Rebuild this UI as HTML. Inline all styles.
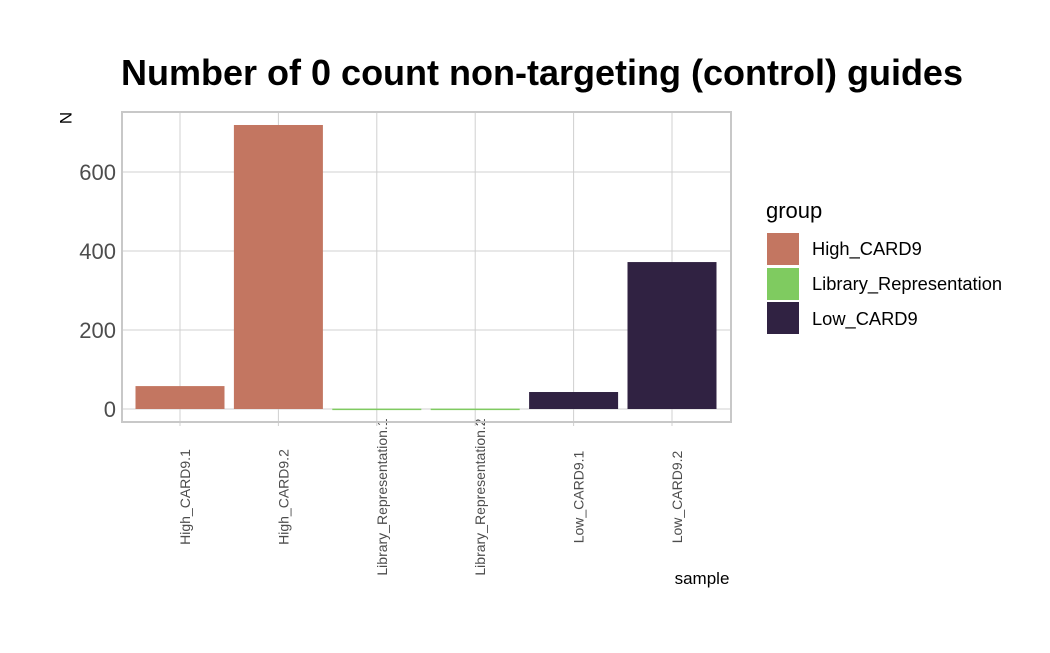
<!DOCTYPE html>
<html><head><meta charset="utf-8"><style>
body{margin:0;background:#fff;font-family:"Liberation Sans",sans-serif;}
</style></head><body>
<svg id="c" width="1050" height="648" xmlns="http://www.w3.org/2000/svg">
<text x="542" y="85" text-anchor="middle" font-size="36" font-weight="bold">Number of 0 count non-targeting (control) guides</text>
<g id="grid"></g><g id="bars"></g><g id="axes"></g>
<text x="60" y="118" font-size="17" transform="rotate(90 60 118)" text-anchor="middle">N</text>
<text x="702" y="584" font-size="17" text-anchor="middle">sample</text>
<g>
<text x="766" y="218" font-size="22">group</text>
<rect x="767" y="233" width="32" height="32" fill="#c37661"/>
<text x="812" y="255" font-size="18.3">High_CARD9</text>
<rect x="767" y="268" width="32" height="32" fill="#7fcb60"/>
<text x="812" y="290" font-size="18.3">Library_Representation</text>
<rect x="767" y="302" width="32" height="32" fill="#302242"/>
<text x="812" y="325" font-size="18.3">Low_CARD9</text>
</g>
</svg>
<script>
const categories=["High_CARD9.1","High_CARD9.2","Library_Representation.1","Library_Representation.2","Low_CARD9.1","Low_CARD9.2"];
const values=[58,719,1,1,43,372];
const groups=["High_CARD9","High_CARD9","Library_Representation","Library_Representation","Low_CARD9","Low_CARD9"];
const yTicks=[0,200,400,600];
const colors={"High_CARD9":"#c37661","Library_Representation":"#7fcb60","Low_CARD9":"#302242"};
const NS="http://www.w3.org/2000/svg";
const L=122,R=731,T=112,B=422;
const y=v=>409-v*(79/200);
const step=98.4;
const x=i=>180+step*i;
const bw=89;
function mk(t,a,p){const e=document.createElementNS(NS,t);for(const k in a)e.setAttribute(k,a[k]);p.appendChild(e);return e;}
const grid=document.getElementById('grid'),bars=document.getElementById('bars'),axes=document.getElementById('axes');
yTicks.forEach(v=>{
 const l=mk('line',{x1:L,x2:R,y1:y(v),y2:y(v),stroke:'#d0d0d0','stroke-width':1},grid);
 
 
 const t=mk('text',{x:116,y:y(v)+8,'text-anchor':'end','font-size':22,fill:'#4d4d4d'},axes);
 t.textContent=v;
 
 
});
categories.forEach((c,i)=>{
 const l=mk('line',{x1:x(i),x2:x(i),y1:T,y2:B+4,stroke:'#d0d0d0','stroke-width':1},grid);
 
 
 const r=mk('rect',{x:x(i)-bw/2,y:y(values[i]),width:bw,height:Math.max(y(0)-y(values[i]),1.5),fill:colors[groups[i]]},bars);
 
 
 const t=mk('text',{x:0,y:0,'text-anchor':'middle','font-size':14,fill:'#4d4d4d',transform:`translate(${x(i)+10},497) rotate(-90)`},axes);
 t.textContent=c;
 
 
});
const f=mk('rect',{x:L,y:T,width:R-L,height:B-T,fill:'none',stroke:'#c8c8c8','stroke-width':2},axes);


</script>
</body></html>
